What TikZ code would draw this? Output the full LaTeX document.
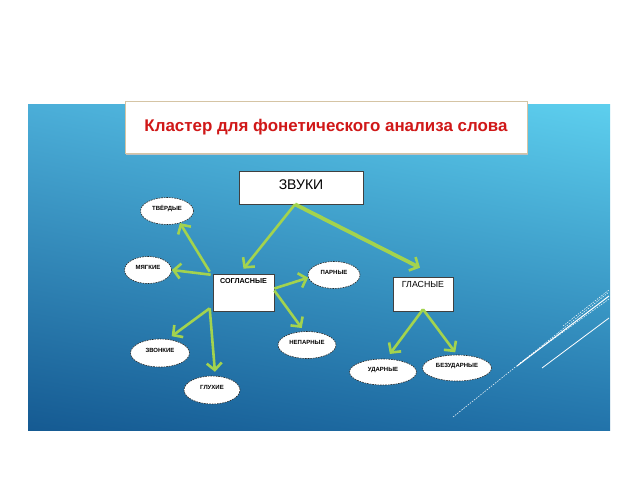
\documentclass[tikz,border=0pt]{standalone}
\usepackage{fontspec}
\setmainfont{Liberation Sans}
\usetikzlibrary{arrows.meta,shapes.geometric,shadings}
\definecolor{arrgreen}{HTML}{A3D34E}
\definecolor{bgUL}{HTML}{4BAED8}
\definecolor{bgUR}{HTML}{5DCFEE}
\definecolor{bgLL}{HTML}{155A92}
\definecolor{bgLR}{HTML}{2273AA}
\definecolor{titlered}{HTML}{D01818}
\definecolor{tan}{HTML}{D5C4A4}
\begin{document}
\begin{tikzpicture}[x=1pt,y=-1pt,
  box/.style={draw=black!75, line width=0.6pt, fill=white, inner sep=0pt},
  oval/.style={ellipse, draw=black!85, fill=white, dash pattern=on 1.6pt off 1pt,
    line width=0.6pt, inner sep=0pt,
    font=\bfseries\fontsize{6}{7}\selectfont, text height=4.3pt, text depth=6.3pt},
  arr/.style={draw=arrgreen, line width=2.6pt,
    -{Straight Barb[length=7pt,width=15pt,line width=2.6pt]}},
  deco/.style={draw=white, line width=0.5pt, dash pattern=on 1.5pt off 1.2pt},
]
\useasboundingbox (0,0) rectangle (640,480);
\fill[white] (0,0) rectangle (640,480);
\shade[upper left=bgUL, upper right=bgUR, lower left=bgLL, lower right=bgLR]
  (28,104) rectangle (610,430);

% decorative lines
\draw[deco] (453,417) -- (609,292);
\draw[draw=white, line width=1pt] (517,366) -- (609,296);
\draw[deco] (520,363) -- (609,299);
\draw[deco] (563,326) -- (609,290);
\draw[draw=white, line width=0.8pt] (542,368) -- (609,318);

% title
\fill[black!25] (126,103) rectangle (528,155);
\node[draw=tan, line width=0.8pt, fill=white, minimum width=402pt, minimum height=52pt,
  inner sep=0pt] (title) at (326,127)
  {\color{titlered}\resizebox{363pt}{!}{\bfseries Кластер для фонетического анализа слова}};

% boxes
\node[box, minimum width=124pt, minimum height=33pt, font=\fontsize{14}{16}\selectfont,
  text height=10pt, text depth=7pt] (zv) at (301,187.5) {ЗВУКИ};
\node[box] (sogl) at (243.5,292.5)
  {\parbox[c][37pt][t]{61pt}{\centering\vspace*{4pt}\bfseries\fontsize{7.2}{8}\selectfont СОГЛАСНЫЕ}};
\node[box] (glas) at (423,294)
  {\parbox[c][34pt][t]{60pt}{\centering\vspace*{4.5pt}\fontsize{8.8}{9}\selectfont ГЛАСНЫЕ}};

% ovals
\node[oval, minimum width=53pt, minimum height=27pt] (tv) at (167,211) {ТВЁРДЫЕ};
\node[oval, minimum width=47pt, minimum height=27pt] (mya) at (148,270) {МЯГКИЕ};
\node[oval, minimum width=52pt, minimum height=27pt] (par) at (334,275) {ПАРНЫЕ};
\node[oval, minimum width=58pt, minimum height=27pt] (nepar) at (307,345) {НЕПАРНЫЕ};
\node[oval, minimum width=59pt, minimum height=28pt] (zvon) at (160,353) {ЗВОНКИЕ};
\node[oval, minimum width=56pt, minimum height=28pt] (glukh) at (212,390) {ГЛУХИЕ};
\node[oval, minimum width=67pt, minimum height=26pt] (udar) at (383,372) {УДАРНЫЕ};
\node[oval, minimum width=69pt, minimum height=26pt] (bezud) at (457,368) {БЕЗУДАРНЫЕ};

% arrows
\draw[arr] ([xshift=-6pt]zv.south) -- ([yshift=5pt]sogl.north);
\draw[arr, line width=3.8pt] ([xshift=-6pt]zv.south) -- ([xshift=-3pt,yshift=9pt]glas.north);
\draw[arr] ([xshift=-3pt,yshift=2pt]sogl.north west) -- (tv.-43);
\draw[arr] ([xshift=-2pt,yshift=-1pt]sogl.north west) -- (mya.east);
\draw[arr] ([yshift=4pt]sogl.east) -- (par.186);
\draw[arr, shorten >=4pt] ([yshift=2pt]sogl.east) -- (nepar.102);
\draw[arr, shorten >=5pt] ([xshift=-3pt,yshift=3pt]sogl.south west) -- (zvon.61);
\draw[arr, shorten >=4pt] ([xshift=-3pt,yshift=3pt]sogl.south west) -- (glukh.77);
\draw[arr, shorten >=6pt] ([yshift=2pt]glas.south) -- (udar.76);
\draw[arr, shorten >=3pt] ([yshift=2pt]glas.south) -- (bezud.north);
\end{tikzpicture}
\end{document}
